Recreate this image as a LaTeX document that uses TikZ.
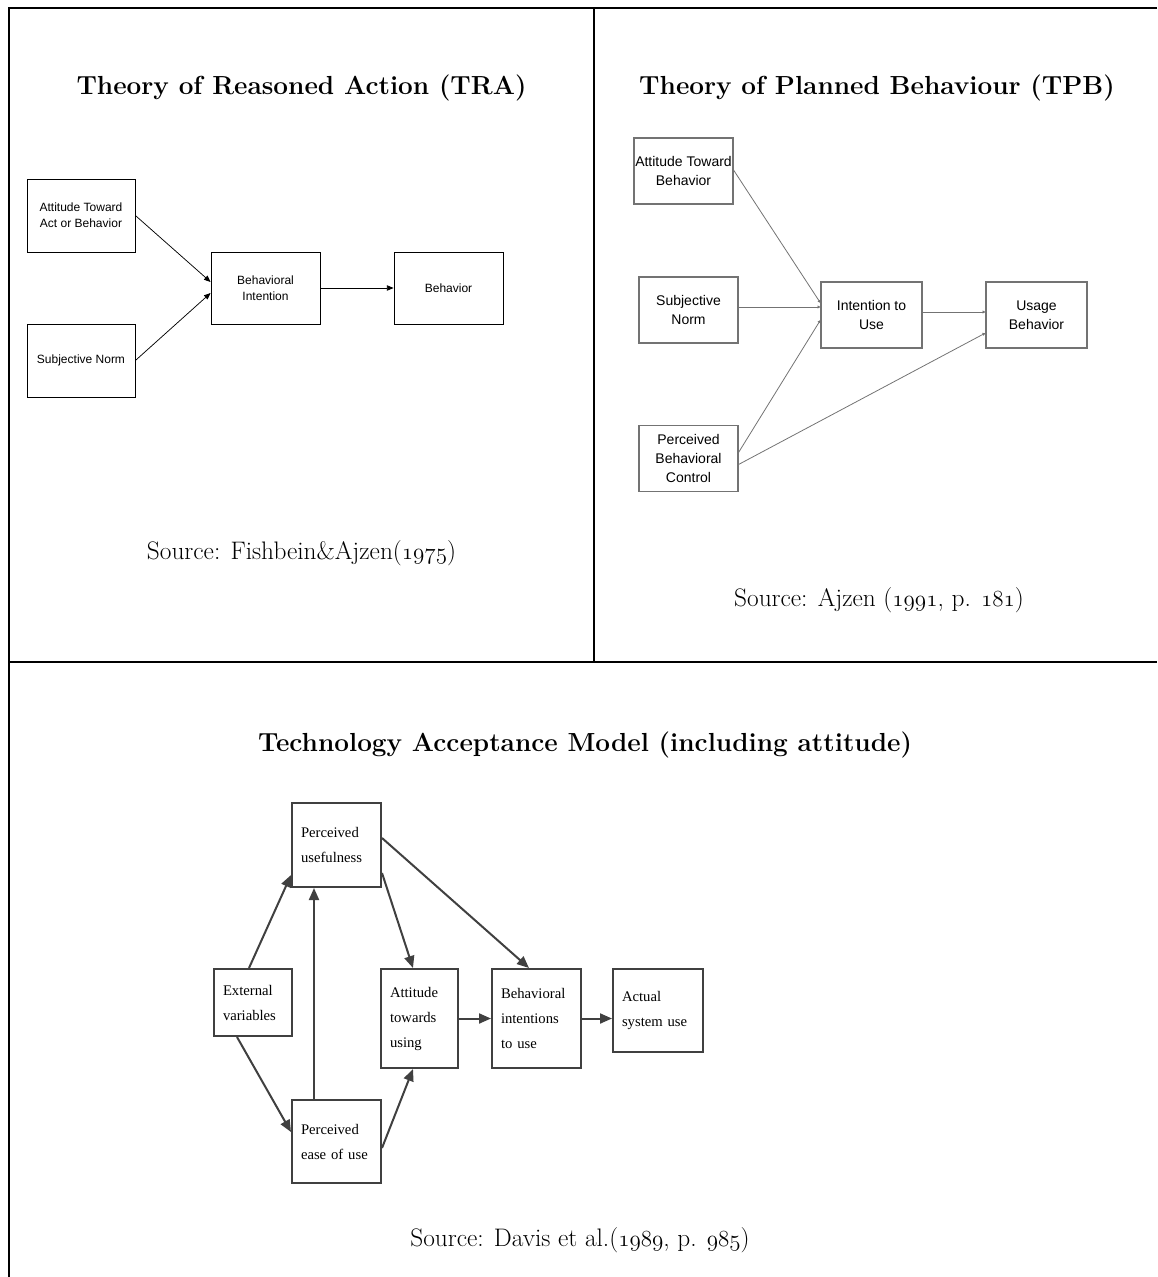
\documentclass[tikz,border=0pt]{standalone}
\usepackage{fontspec}
\newfontfamily\arialfont{Liberation Sans}
\newfontfamily\timesfont{Liberation Serif}
\usetikzlibrary{arrows.meta,calc}

% old style figures of the sources
\newcommand{\osfig}[1]{{\usefont{OML}{cmm}{m}{it}#1}}

\tikzset{
  tableline/.style={line width=1.5pt},
  heading/.style={inner sep=0.75pt, font=\bfseries\fontsize{19.6}{23}\selectfont},
  srctext/.style={inner sep=0.75pt, font=\fontsize{19}{23}\selectfont},
  trabox/.style={draw=black, line width=0.6pt, align=center, inner sep=0pt, font=\arialfont\fontsize{9}{12}\selectfont},
  traarrow/.style={draw=black, line width=0.55pt, -{Triangle[length=5pt,width=4pt]}},
  tpbbox/.style={draw=black!55, line width=0.8pt, align=center, inner sep=0pt, font=\arialfont\fontsize{10.5}{14}\selectfont},
  tpbarrow/.style={draw=black!55, line width=0.6pt, -{Triangle[length=2.2pt,width=2.2pt]}},
  tambox/.style={draw=black!75, line width=1.5pt, align=left, inner xsep=6.75pt, inner ysep=0pt, font=\timesfont\fontsize{11}{18.75}\selectfont},
  tamarrow/.style={draw=black!75, line width=1.5pt, -{Triangle[length=9pt,width=7.5pt]}}
}

\begin{document}
\begin{tikzpicture}[x=0.75pt,y=0.75pt,yscale=-1,xscale=1]
\useasboundingbox (0,0) rectangle (1157,1277);

%Straight Lines [table]
\draw[tableline] (1157,8.5) -- (9,8.5) -- (9,1277);
\draw[tableline] (594,8.5) -- (594,661.7);
\draw[tableline] (9,661.7) -- (1157,661.7);

% Text Node
\node[heading] (titleTRA) at (301.5,88) {Theory of Reasoned Action (TRA)};
% Text Node
\node[heading] (titleTPB) at (877,88) {Theory of Planned Behaviour (TPB)};
% Text Node
\node[heading] (titleTAM) at (585,745) {Technology Acceptance Model (including attitude)};
% Text Node
\node[srctext] (srcTRA) at (301.5,553) {Source: Fishbein\&Ajzen(\osfig{1975})};
% Text Node
\node[srctext] (srcTPB) at (879,600) {Source: Ajzen (\osfig{1991}, p. \osfig{181})};
% Text Node
\node[srctext] (srcTAM) at (580,1240) {Source: Davis et al.(\osfig{1989}, p. \osfig{985})};

%Shape: Rectangle [TRA]
\node[trabox, minimum width=81pt, minimum height=54.75pt] (attTRA) at (81,215.5) {Attitude Toward\\Act or Behavior};
\node[trabox, minimum width=81pt, minimum height=54.75pt] (snTRA) at (81,360.5) {Subjective Norm};
\node[trabox, minimum width=81.75pt, minimum height=54pt] (biTRA) at (265.5,288) {Behavioral\\Intention};
\node[trabox, minimum width=81.75pt, minimum height=54pt] (behTRA) at (448.5,288) {Behavior};
%Straight Lines [TRA]
\draw[traarrow] (attTRA.east) -- ($(biTRA.west)+(0,-6)$);
\draw[traarrow] (snTRA.east) -- ($(biTRA.west)+(0,5)$);
\draw[traarrow] (biTRA) -- (behTRA);

%Shape: Rectangle [TPB]
\node[tpbbox, minimum width=74.25pt, minimum height=49.5pt] (attTPB) at (683.5,171) {Attitude Toward\\Behavior};
\node[tpbbox, minimum width=74.25pt, minimum height=49.5pt] (snTPB) at (688.5,310) {Subjective\\Norm};
\node[tpbbox, minimum width=74.25pt, minimum height=50pt] (pbcTPB) at (688.5,458.5) {Perceived\\Behavioral\\Control};
\node[tpbbox, minimum width=75.75pt, minimum height=49.5pt] (ituTPB) at (871.5,315) {Intention to\\Use};
\node[tpbbox, minimum width=75.75pt, minimum height=49.5pt] (ubTPB) at (1036.5,315) {Usage\\Behavior};
%Straight Lines [TPB]
\draw[tpbarrow] ($(attTPB.east)+(0,-1)$) -- ($(ituTPB.west)+(0,-12)$);
\draw[tpbarrow] ($(snTPB.east)+(0,-3)$) -- ($(ituTPB.west)+(0,-8)$);
\draw[tpbarrow] ($(pbcTPB.east)+(0,-6)$) -- ($(ituTPB.west)+(0,5)$);
\draw[tpbarrow] ($(ituTPB.east)+(0,-3)$) -- ($(ubTPB.west)+(0,-3)$);
\draw[tpbarrow] ($(pbcTPB.east)+(0,6)$) -- ($(ubTPB.west)+(0,18)$);

%Shape: Rectangle [TAM]
\node[tambox, text width=53.25pt, minimum height=63pt] (puTAM) at (336.5,845) {Perceived\\usefulness};
\node[tambox, text width=45pt, minimum height=50.25pt] (evTAM) at (253,1002.5) {External\\variables};
\node[tambox, text width=53.25pt, minimum height=62.25pt] (peouTAM) at (336.5,1141.5) {Perceived\\ease of use};
\node[tambox, text width=44.25pt, minimum height=74.25pt] (atuTAM) at (419.5,1018.5) {Attitude\\towards\\using};
\node[tambox, text width=53.25pt, minimum height=74.25pt] (bitTAM) at (536.5,1018.5) {Behavioral\\intentions\\to use};
\node[tambox, text width=54pt, minimum height=62.25pt] (asuTAM) at (658,1010.5) {Actual\\system use};
%Straight Lines [TAM]
\draw[tamarrow] ($(evTAM.north)+(-4,0)$) -- ($(puTAM.west)+(0,30)$);
\draw[tamarrow] ($(evTAM.south)+(-16,0)$) -- ($(peouTAM.west)+(0,-9.5)$);
\draw[tamarrow] ($(peouTAM.north)+(-22.5,0)$) -- ($(puTAM.south)+(-22.5,0)$);
\draw[tamarrow] ($(puTAM.east)+(0,28)$) -- ($(atuTAM.north)+(-6.5,0)$);
\draw[tamarrow] ($(puTAM.east)+(0,-7)$) -- ($(bitTAM.north)+(-7.5,0)$);
\draw[tamarrow] ($(peouTAM.east)+(0,6.5)$) -- ($(atuTAM.south)+(-6.5,0)$);
\draw[tamarrow] (atuTAM) -- (bitTAM);
\draw[tamarrow] (bitTAM.east) -- (bitTAM.east -| asuTAM.west);

\end{tikzpicture}
\end{document}
